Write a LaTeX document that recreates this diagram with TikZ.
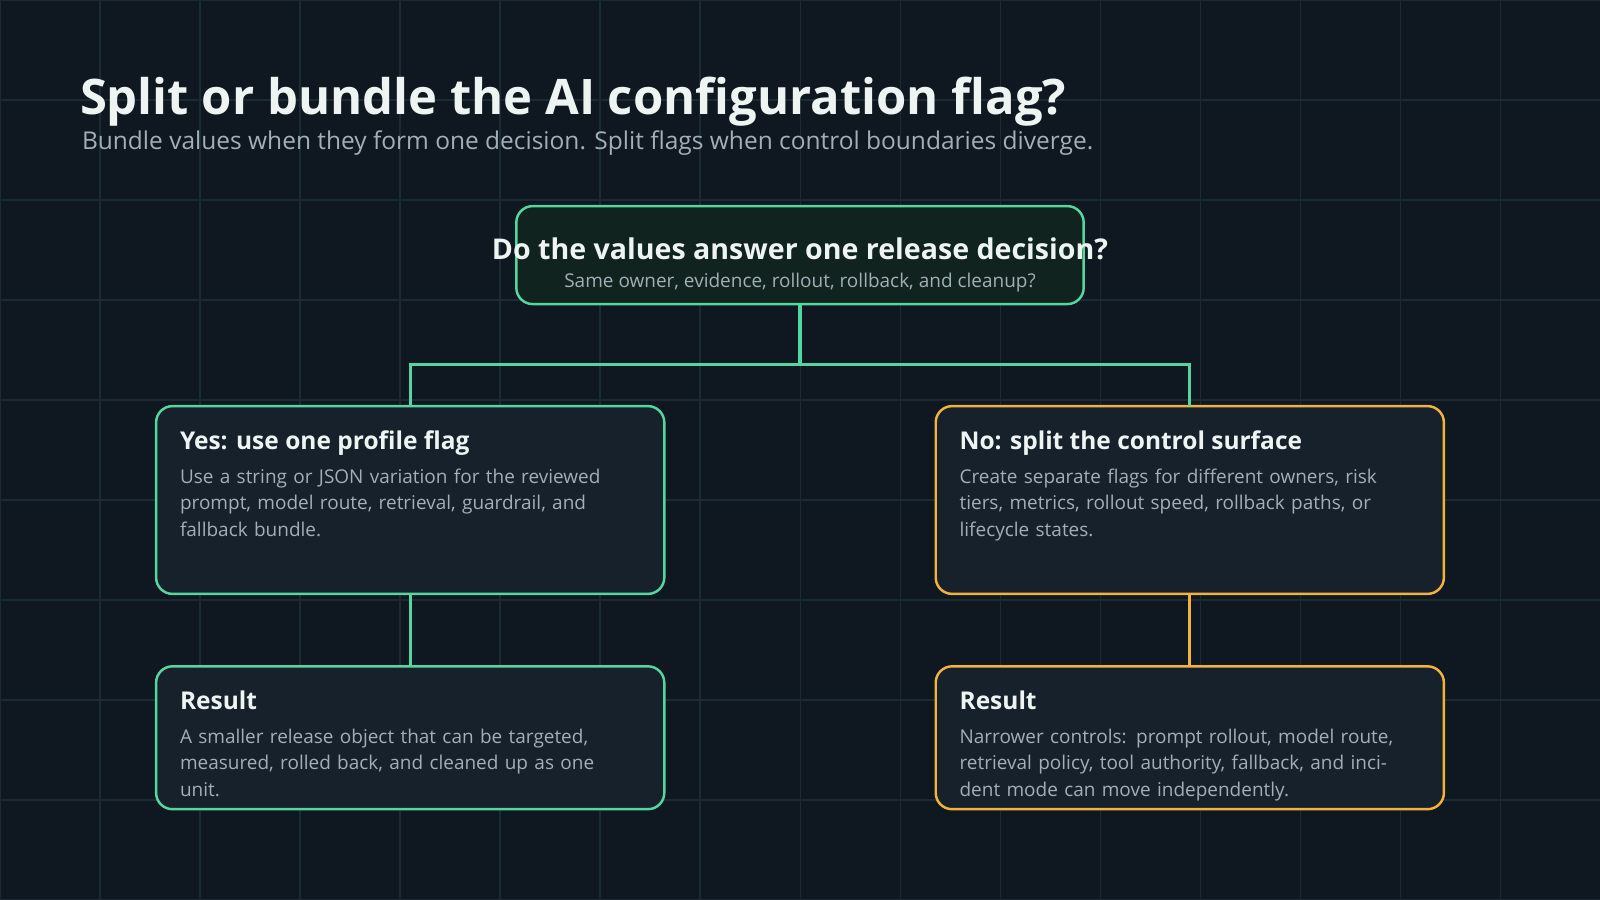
\documentclass[tikz,border=0pt]{standalone}
\usepackage{fontspec}
\setmainfont{Open Sans}
\begin{document}
\definecolor{bg}{HTML}{0F1720}
\definecolor{gridc}{HTML}{1B2A33}
\definecolor{grn}{HTML}{56D69E}
\definecolor{amb}{HTML}{F2B33D}
\definecolor{boxf}{HTML}{16212C}
\definecolor{topf}{HTML}{10231E}
\definecolor{ttl}{HTML}{EEF4F1}
\definecolor{sub}{HTML}{A3AEB8}
\begin{tikzpicture}[x=0.5pt,y=-0.5pt,
  box/.style={draw=#1,line width=1.2pt,rounded corners=8pt,fill=boxf},
  conn/.style={draw=#1,line width=1.6pt},
  head/.style={anchor=north west,text=ttl,font=\fontsize{12}{14}\selectfont\bfseries,inner sep=0},
  body/.style={anchor=north west,text=sub,font=\fontsize{9.3}{13}\selectfont,inner sep=0,align=left,text width=215pt}]
\fill[bg] (0,0) rectangle (1568,882);
\useasboundingbox (0,0) rectangle (1568,882);
\foreach \i in {0,98,...,1568} \draw[gridc,line width=0.5pt] (\i,0) -- (\i,882);
\foreach \j in {0,98,...,882} \draw[gridc,line width=0.5pt] (0,\j) -- (1568,\j);
\node[anchor=base west,text=ttl,font=\fontsize{24}{28}\selectfont\bfseries,inner sep=0] (title) at (78,112) {Split or bundle the AI configuration flag?};
\node[anchor=base west,text=sub,font=\fontsize{12}{14}\selectfont,inner sep=0] (subt) at (80,147) {Bundle values when they form one decision. Split flags when control boundaries diverge.};
% boxes
\draw[box=grn,fill=topf] (506,202) rectangle (1062,298);
\node[anchor=base,text=ttl,font=\fontsize{14}{16}\selectfont\bfseries,inner sep=0] (q) at (784,254) {Do the values answer one release decision?};
\node[anchor=base,text=sub,font=\fontsize{9.3}{12}\selectfont,inner sep=0] (qs) at (784,282) {Same owner, evidence, rollout, rollback, and cleanup?};
\coordinate (top) at (784,298);
\draw[box=grn] (153,398) rectangle (651,582);
\draw[box=amb] (917,398) rectangle (1415,582);
\draw[box=grn] (153,653) rectangle (651,793);
\draw[box=amb] (917,653) rectangle (1415,793);
\coordinate (yesT) at (402,398); \coordinate (yesB) at (402,582);
\coordinate (noT) at (1166,398); \coordinate (noB) at (1166,582);
\coordinate (resL) at (402,653); \coordinate (resR) at (1166,653);
\node[head] (yh) at (176,422) {Yes: use one profile flag};
\node[body] (yb) at (176,459) {Use a string or JSON variation for the reviewed prompt, model route, retrieval, guardrail, and fallback bundle.};
\node[head] (nh) at (940,422) {No: split the control surface};
\node[body] (nb) at (940,459) {Create separate flags for different owners, risk tiers, metrics, rollout speed, rollback paths, or lifecycle states.};
\node[head] (rlh) at (176,677) {Result};
\node[body] (rlb) at (176,714) {A smaller release object that can be targeted, measured, rolled back, and cleaned up as one unit.};
\node[head] (rrh) at (940,677) {Result};
\node[body] (rrb) at (940,714) {Narrower controls: prompt rollout, model route, retrieval policy, tool authority, fallback, and incident mode can move independently.};
% connectors
\draw[conn=grn] (top) -- (784,357);
\draw[conn=grn] (yesT) |- (784,357) -| (noT);
\draw[conn=grn] (yesB) -- (resL);
\draw[conn=amb] (noB) -- (resR);
\end{tikzpicture}
\end{document}
